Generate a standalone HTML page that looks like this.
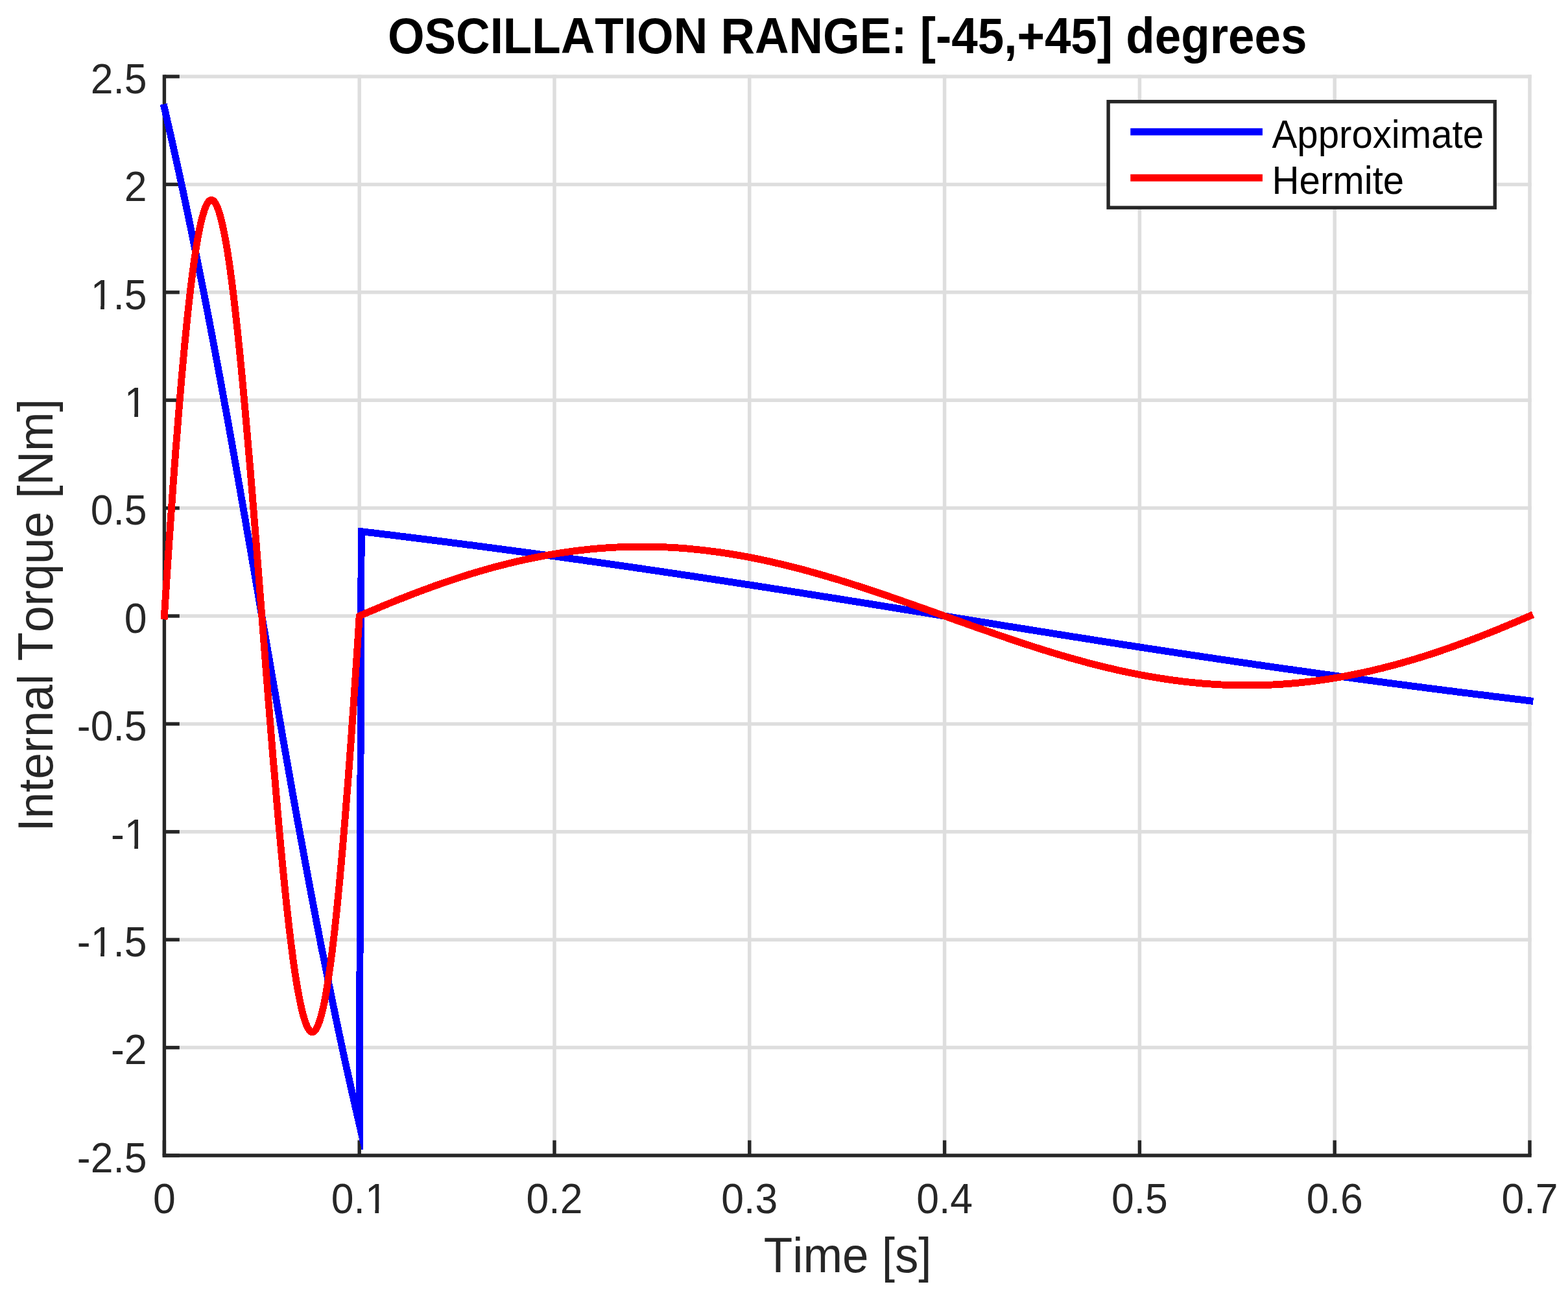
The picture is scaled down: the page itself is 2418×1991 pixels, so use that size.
<!DOCTYPE html>
<html><head><meta charset="utf-8"><title>Oscillation range plot</title>
<style>html,body{margin:0;padding:0;background:#fff;}body{width:2418px;height:1991px;overflow:hidden;}svg{display:block;}text{font-family:"Liberation Sans",Arial,Helvetica,sans-serif;font-kerning:none;font-feature-settings:"kern" 0;}</style></head><body>
<svg width="2418" height="1991" viewBox="0 0 2418 1991">
<rect x="0" y="0" width="2418" height="1991" fill="#fff"/>
<g stroke="#dedede" stroke-width="5.5" fill="none">
<line x1="554.2" y1="115.2" x2="554.2" y2="1782.0"/>
<line x1="855.0" y1="115.2" x2="855.0" y2="1782.0"/>
<line x1="1155.8" y1="115.2" x2="1155.8" y2="1782.0"/>
<line x1="1456.6" y1="115.2" x2="1456.6" y2="1782.0"/>
<line x1="1757.4" y1="115.2" x2="1757.4" y2="1782.0"/>
<line x1="2058.2" y1="115.2" x2="2058.2" y2="1782.0"/>
<line x1="2359.0" y1="115.2" x2="2359.0" y2="1782.0"/>
<line x1="253.4" y1="1615.6" x2="2361.8" y2="1615.6"/>
<line x1="253.4" y1="1449.2" x2="2361.8" y2="1449.2"/>
<line x1="253.4" y1="1282.8" x2="2361.8" y2="1282.8"/>
<line x1="253.4" y1="1116.4" x2="2361.8" y2="1116.4"/>
<line x1="253.4" y1="950.0" x2="2361.8" y2="950.0"/>
<line x1="253.4" y1="783.6" x2="2361.8" y2="783.6"/>
<line x1="253.4" y1="617.2" x2="2361.8" y2="617.2"/>
<line x1="253.4" y1="450.8" x2="2361.8" y2="450.8"/>
<line x1="253.4" y1="284.4" x2="2361.8" y2="284.4"/>
<line x1="253.4" y1="118.0" x2="2361.8" y2="118.0"/>
</g>
<g stroke="#262626" stroke-width="5.4" fill="none">
<line x1="253.4" y1="115.3" x2="253.4" y2="1784.7"/>
<line x1="250.7" y1="1782.0" x2="2361.7" y2="1782.0"/>
<line x1="253.4" y1="1782.0" x2="253.4" y2="1758.6"/>
<line x1="554.2" y1="1782.0" x2="554.2" y2="1758.6"/>
<line x1="855.0" y1="1782.0" x2="855.0" y2="1758.6"/>
<line x1="1155.8" y1="1782.0" x2="1155.8" y2="1758.6"/>
<line x1="1456.6" y1="1782.0" x2="1456.6" y2="1758.6"/>
<line x1="1757.4" y1="1782.0" x2="1757.4" y2="1758.6"/>
<line x1="2058.2" y1="1782.0" x2="2058.2" y2="1758.6"/>
<line x1="2359.0" y1="1782.0" x2="2359.0" y2="1758.6"/>
<line x1="253.4" y1="1782.0" x2="276.8" y2="1782.0"/>
<line x1="253.4" y1="1615.6" x2="276.8" y2="1615.6"/>
<line x1="253.4" y1="1449.2" x2="276.8" y2="1449.2"/>
<line x1="253.4" y1="1282.8" x2="276.8" y2="1282.8"/>
<line x1="253.4" y1="1116.4" x2="276.8" y2="1116.4"/>
<line x1="253.4" y1="950.0" x2="276.8" y2="950.0"/>
<line x1="253.4" y1="783.6" x2="276.8" y2="783.6"/>
<line x1="253.4" y1="617.2" x2="276.8" y2="617.2"/>
<line x1="253.4" y1="450.8" x2="276.8" y2="450.8"/>
<line x1="253.4" y1="284.4" x2="276.8" y2="284.4"/>
<line x1="253.4" y1="118.0" x2="276.8" y2="118.0"/>
</g>
<defs><clipPath id="cb"><rect x="0" y="0" width="2418" height="1772.9"/></clipPath></defs>
<polyline clip-path="url(#cb)" shape-rendering="crispEdges" fill="none" stroke="#0000ff" stroke-width="10.9" stroke-linecap="square" stroke-linejoin="miter" stroke-miterlimit="12" points="253.4,165.9 254.9,172.4 256.4,178.8 257.9,185.4 259.4,191.9 260.9,198.5 262.4,205.1 263.9,211.7 265.4,218.4 266.9,225.1 268.4,231.8 269.9,238.6 271.4,245.4 273.0,252.2 274.5,259.1 276.0,266.0 277.5,272.9 279.0,279.9 280.5,286.8 282.0,293.8 283.5,300.9 285.0,308.0 286.5,315.1 288.0,322.2 289.5,329.3 291.0,336.5 292.5,343.8 294.0,351.0 295.5,358.3 297.0,365.6 298.5,372.9 300.0,380.3 301.5,387.7 303.0,395.1 304.5,402.6 306.0,410.1 307.5,417.6 309.0,425.2 310.6,432.7 312.1,440.3 313.6,448.0 315.1,455.6 316.6,463.3 318.1,471.1 319.6,478.8 321.1,486.6 322.6,494.4 324.1,502.3 325.6,510.1 327.1,518.0 328.6,526.0 330.1,533.9 331.6,541.9 333.1,549.9 334.6,558.0 336.1,566.0 337.6,574.1 339.1,582.2 340.6,590.4 342.1,598.6 343.6,606.8 345.1,615.0 346.6,623.2 348.2,631.5 349.7,639.8 351.2,648.1 352.7,656.5 354.2,664.8 355.7,673.2 357.2,681.6 358.7,690.1 360.2,698.5 361.7,707.0 363.2,715.5 364.7,724.0 366.2,732.5 367.7,741.1 369.2,749.6 370.7,758.2 372.2,766.8 373.7,775.5 375.2,784.1 376.7,792.7 378.2,801.4 379.7,810.1 381.2,818.8 382.7,827.4 384.2,836.2 385.8,844.9 387.3,853.6 388.8,862.3 390.3,871.1 391.8,879.8 393.3,888.6 394.8,897.4 396.3,906.1 397.8,914.9 399.3,923.7 400.8,932.4 402.3,941.2 403.8,950.0 405.3,958.8 406.8,967.6 408.3,976.3 409.8,985.1 411.3,993.9 412.8,1002.6 414.3,1011.4 415.8,1020.2 417.3,1028.9 418.8,1037.7 420.3,1046.4 421.8,1055.1 423.4,1063.8 424.9,1072.6 426.4,1081.2 427.9,1089.9 429.4,1098.6 430.9,1107.3 432.4,1115.9 433.9,1124.5 435.4,1133.2 436.9,1141.8 438.4,1150.4 439.9,1158.9 441.4,1167.5 442.9,1176.0 444.4,1184.5 445.9,1193.0 447.4,1201.5 448.9,1209.9 450.4,1218.4 451.9,1226.8 453.4,1235.2 454.9,1243.5 456.4,1251.9 457.9,1260.2 459.4,1268.5 461.0,1276.8 462.5,1285.0 464.0,1293.2 465.5,1301.4 467.0,1309.6 468.5,1317.8 470.0,1325.9 471.5,1334.0 473.0,1342.0 474.5,1350.1 476.0,1358.1 477.5,1366.1 479.0,1374.0 480.5,1382.0 482.0,1389.9 483.5,1397.7 485.0,1405.6 486.5,1413.4 488.0,1421.2 489.5,1428.9 491.0,1436.7 492.5,1444.4 494.0,1452.0 495.5,1459.7 497.0,1467.3 498.6,1474.8 500.1,1482.4 501.6,1489.9 503.1,1497.4 504.6,1504.9 506.1,1512.3 507.6,1519.7 509.1,1527.1 510.6,1534.4 512.1,1541.7 513.6,1549.0 515.1,1556.2 516.6,1563.5 518.1,1570.7 519.6,1577.8 521.1,1584.9 522.6,1592.0 524.1,1599.1 525.6,1606.2 527.1,1613.2 528.6,1620.1 530.1,1627.1 531.6,1634.0 533.1,1640.9 534.6,1647.8 536.2,1654.6 537.7,1661.4 539.2,1668.2 540.7,1674.9 542.2,1681.6 543.7,1688.3 545.2,1694.9 546.7,1701.5 548.2,1708.1 549.7,1714.6 551.2,1721.2 552.7,1727.6 554.2,1734.1 557.2,819.7 560.2,820.0 563.2,820.4 566.2,820.8 569.2,821.1 572.2,821.5 575.3,821.8 578.3,822.2 581.3,822.6 584.3,822.9 587.3,823.3 590.3,823.7 593.3,824.0 596.3,824.4 599.3,824.7 602.3,825.1 605.3,825.5 608.3,825.8 611.4,826.2 614.4,826.6 617.4,827.0 620.4,827.3 623.4,827.7 626.4,828.1 629.4,828.4 632.4,828.8 635.4,829.2 638.4,829.6 641.4,829.9 644.4,830.3 647.4,830.7 650.5,831.1 653.5,831.4 656.5,831.8 659.5,832.2 662.5,832.6 665.5,832.9 668.5,833.3 671.5,833.7 674.5,834.1 677.5,834.5 680.5,834.8 683.5,835.2 686.6,835.6 689.6,836.0 692.6,836.4 695.6,836.8 698.6,837.2 701.6,837.5 704.6,837.9 707.6,838.3 710.6,838.7 713.6,839.1 716.6,839.5 719.6,839.9 722.6,840.3 725.7,840.6 728.7,841.0 731.7,841.4 734.7,841.8 737.7,842.2 740.7,842.6 743.7,843.0 746.7,843.4 749.7,843.8 752.7,844.2 755.7,844.6 758.7,845.0 761.8,845.4 764.8,845.8 767.8,846.2 770.8,846.6 773.8,847.0 776.8,847.4 779.8,847.8 782.8,848.2 785.8,848.6 788.8,849.0 791.8,849.4 794.8,849.8 797.8,850.2 800.9,850.6 803.9,851.0 806.9,851.4 809.9,851.8 812.9,852.2 815.9,852.6 818.9,853.0 821.9,853.4 824.9,853.8 827.9,854.2 830.9,854.6 833.9,855.1 837.0,855.5 840.0,855.9 843.0,856.3 846.0,856.7 849.0,857.1 852.0,857.5 855.0,857.9 858.0,858.4 861.0,858.8 864.0,859.2 867.0,859.6 870.0,860.0 873.0,860.4 876.1,860.8 879.1,861.3 882.1,861.7 885.1,862.1 888.1,862.5 891.1,862.9 894.1,863.4 897.1,863.8 900.1,864.2 903.1,864.6 906.1,865.1 909.1,865.5 912.2,865.9 915.2,866.3 918.2,866.8 921.2,867.2 924.2,867.6 927.2,868.0 930.2,868.5 933.2,868.9 936.2,869.3 939.2,869.7 942.2,870.2 945.2,870.6 948.2,871.0 951.3,871.5 954.3,871.9 957.3,872.3 960.3,872.8 963.3,873.2 966.3,873.6 969.3,874.1 972.3,874.5 975.3,874.9 978.3,875.4 981.3,875.8 984.3,876.3 987.4,876.7 990.4,877.1 993.4,877.6 996.4,878.0 999.4,878.4 1002.4,878.9 1005.4,879.3 1008.4,879.8 1011.4,880.2 1014.4,880.7 1017.4,881.1 1020.4,881.5 1023.4,882.0 1026.5,882.4 1029.5,882.9 1032.5,883.3 1035.5,883.8 1038.5,884.2 1041.5,884.7 1044.5,885.1 1047.5,885.6 1050.5,886.0 1053.5,886.5 1056.5,886.9 1059.5,887.4 1062.6,887.8 1065.6,888.3 1068.6,888.7 1071.6,889.2 1074.6,889.6 1077.6,890.1 1080.6,890.5 1083.6,891.0 1086.6,891.4 1089.6,891.9 1092.6,892.3 1095.6,892.8 1098.6,893.2 1101.7,893.7 1104.7,894.2 1107.7,894.6 1110.7,895.1 1113.7,895.5 1116.7,896.0 1119.7,896.5 1122.7,896.9 1125.7,897.4 1128.7,897.8 1131.7,898.3 1134.7,898.8 1137.8,899.2 1140.8,899.7 1143.8,900.1 1146.8,900.6 1149.8,901.1 1152.8,901.5 1155.8,902.0 1158.8,902.5 1161.8,902.9 1164.8,903.4 1167.8,903.9 1170.8,904.3 1173.8,904.8 1176.9,905.3 1179.9,905.7 1182.9,906.2 1185.9,906.7 1188.9,907.1 1191.9,907.6 1194.9,908.1 1197.9,908.6 1200.9,909.0 1203.9,909.5 1206.9,910.0 1209.9,910.4 1213.0,910.9 1216.0,911.4 1219.0,911.9 1222.0,912.3 1225.0,912.8 1228.0,913.3 1231.0,913.8 1234.0,914.2 1237.0,914.7 1240.0,915.2 1243.0,915.7 1246.0,916.1 1249.0,916.6 1252.1,917.1 1255.1,917.6 1258.1,918.0 1261.1,918.5 1264.1,919.0 1267.1,919.5 1270.1,920.0 1273.1,920.4 1276.1,920.9 1279.1,921.4 1282.1,921.9 1285.1,922.3 1288.2,922.8 1291.2,923.3 1294.2,923.8 1297.2,924.3 1300.2,924.8 1303.2,925.2 1306.2,925.7 1309.2,926.2 1312.2,926.7 1315.2,927.2 1318.2,927.6 1321.2,928.1 1324.2,928.6 1327.3,929.1 1330.3,929.6 1333.3,930.1 1336.3,930.5 1339.3,931.0 1342.3,931.5 1345.3,932.0 1348.3,932.5 1351.3,933.0 1354.3,933.4 1357.3,933.9 1360.3,934.4 1363.4,934.9 1366.4,935.4 1369.4,935.9 1372.4,936.4 1375.4,936.8 1378.4,937.3 1381.4,937.8 1384.4,938.3 1387.4,938.8 1390.4,939.3 1393.4,939.8 1396.4,940.3 1399.4,940.7 1402.5,941.2 1405.5,941.7 1408.5,942.2 1411.5,942.7 1414.5,943.2 1417.5,943.7 1420.5,944.1 1423.5,944.6 1426.5,945.1 1429.5,945.6 1432.5,946.1 1435.5,946.6 1438.6,947.1 1441.6,947.6 1444.6,948.0 1447.6,948.5 1450.6,949.0 1453.6,949.5 1456.6,950.0 1459.6,950.5 1462.6,951.0 1465.6,951.5 1468.6,952.0 1471.6,952.4 1474.6,952.9 1477.7,953.4 1480.7,953.9 1483.7,954.4 1486.7,954.9 1489.7,955.4 1492.7,955.9 1495.7,956.3 1498.7,956.8 1501.7,957.3 1504.7,957.8 1507.7,958.3 1510.7,958.8 1513.8,959.3 1516.8,959.7 1519.8,960.2 1522.8,960.7 1525.8,961.2 1528.8,961.7 1531.8,962.2 1534.8,962.7 1537.8,963.2 1540.8,963.6 1543.8,964.1 1546.8,964.6 1549.8,965.1 1552.9,965.6 1555.9,966.1 1558.9,966.6 1561.9,967.0 1564.9,967.5 1567.9,968.0 1570.9,968.5 1573.9,969.0 1576.9,969.5 1579.9,969.9 1582.9,970.4 1585.9,970.9 1589.0,971.4 1592.0,971.9 1595.0,972.4 1598.0,972.8 1601.0,973.3 1604.0,973.8 1607.0,974.3 1610.0,974.8 1613.0,975.2 1616.0,975.7 1619.0,976.2 1622.0,976.7 1625.0,977.2 1628.1,977.7 1631.1,978.1 1634.1,978.6 1637.1,979.1 1640.1,979.6 1643.1,980.0 1646.1,980.5 1649.1,981.0 1652.1,981.5 1655.1,982.0 1658.1,982.4 1661.1,982.9 1664.2,983.4 1667.2,983.9 1670.2,984.3 1673.2,984.8 1676.2,985.3 1679.2,985.8 1682.2,986.2 1685.2,986.7 1688.2,987.2 1691.2,987.7 1694.2,988.1 1697.2,988.6 1700.2,989.1 1703.3,989.6 1706.3,990.0 1709.3,990.5 1712.3,991.0 1715.3,991.4 1718.3,991.9 1721.3,992.4 1724.3,992.9 1727.3,993.3 1730.3,993.8 1733.3,994.3 1736.3,994.7 1739.4,995.2 1742.4,995.7 1745.4,996.1 1748.4,996.6 1751.4,997.1 1754.4,997.5 1757.4,998.0 1760.4,998.5 1763.4,998.9 1766.4,999.4 1769.4,999.9 1772.4,1000.3 1775.4,1000.8 1778.5,1001.2 1781.5,1001.7 1784.5,1002.2 1787.5,1002.6 1790.5,1003.1 1793.5,1003.5 1796.5,1004.0 1799.5,1004.5 1802.5,1004.9 1805.5,1005.4 1808.5,1005.8 1811.5,1006.3 1814.6,1006.8 1817.6,1007.2 1820.6,1007.7 1823.6,1008.1 1826.6,1008.6 1829.6,1009.0 1832.6,1009.5 1835.6,1009.9 1838.6,1010.4 1841.6,1010.8 1844.6,1011.3 1847.6,1011.7 1850.6,1012.2 1853.7,1012.6 1856.7,1013.1 1859.7,1013.5 1862.7,1014.0 1865.7,1014.4 1868.7,1014.9 1871.7,1015.3 1874.7,1015.8 1877.7,1016.2 1880.7,1016.7 1883.7,1017.1 1886.7,1017.6 1889.8,1018.0 1892.8,1018.5 1895.8,1018.9 1898.8,1019.3 1901.8,1019.8 1904.8,1020.2 1907.8,1020.7 1910.8,1021.1 1913.8,1021.6 1916.8,1022.0 1919.8,1022.4 1922.8,1022.9 1925.8,1023.3 1928.9,1023.7 1931.9,1024.2 1934.9,1024.6 1937.9,1025.1 1940.9,1025.5 1943.9,1025.9 1946.9,1026.4 1949.9,1026.8 1952.9,1027.2 1955.9,1027.7 1958.9,1028.1 1961.9,1028.5 1965.0,1029.0 1968.0,1029.4 1971.0,1029.8 1974.0,1030.3 1977.0,1030.7 1980.0,1031.1 1983.0,1031.5 1986.0,1032.0 1989.0,1032.4 1992.0,1032.8 1995.0,1033.2 1998.0,1033.7 2001.0,1034.1 2004.1,1034.5 2007.1,1034.9 2010.1,1035.4 2013.1,1035.8 2016.1,1036.2 2019.1,1036.6 2022.1,1037.1 2025.1,1037.5 2028.1,1037.9 2031.1,1038.3 2034.1,1038.7 2037.1,1039.2 2040.2,1039.6 2043.2,1040.0 2046.2,1040.4 2049.2,1040.8 2052.2,1041.2 2055.2,1041.6 2058.2,1042.1 2061.2,1042.5 2064.2,1042.9 2067.2,1043.3 2070.2,1043.7 2073.2,1044.1 2076.2,1044.5 2079.3,1044.9 2082.3,1045.4 2085.3,1045.8 2088.3,1046.2 2091.3,1046.6 2094.3,1047.0 2097.3,1047.4 2100.3,1047.8 2103.3,1048.2 2106.3,1048.6 2109.3,1049.0 2112.3,1049.4 2115.4,1049.8 2118.4,1050.2 2121.4,1050.6 2124.4,1051.0 2127.4,1051.4 2130.4,1051.8 2133.4,1052.2 2136.4,1052.6 2139.4,1053.0 2142.4,1053.4 2145.4,1053.8 2148.4,1054.2 2151.4,1054.6 2154.5,1055.0 2157.5,1055.4 2160.5,1055.8 2163.5,1056.2 2166.5,1056.6 2169.5,1057.0 2172.5,1057.4 2175.5,1057.8 2178.5,1058.2 2181.5,1058.6 2184.5,1059.0 2187.5,1059.4 2190.6,1059.7 2193.6,1060.1 2196.6,1060.5 2199.6,1060.9 2202.6,1061.3 2205.6,1061.7 2208.6,1062.1 2211.6,1062.5 2214.6,1062.8 2217.6,1063.2 2220.6,1063.6 2223.6,1064.0 2226.6,1064.4 2229.7,1064.8 2232.7,1065.2 2235.7,1065.5 2238.7,1065.9 2241.7,1066.3 2244.7,1066.7 2247.7,1067.1 2250.7,1067.4 2253.7,1067.8 2256.7,1068.2 2259.7,1068.6 2262.7,1068.9 2265.8,1069.3 2268.8,1069.7 2271.8,1070.1 2274.8,1070.4 2277.8,1070.8 2280.8,1071.2 2283.8,1071.6 2286.8,1071.9 2289.8,1072.3 2292.8,1072.7 2295.8,1073.0 2298.8,1073.4 2301.8,1073.8 2304.9,1074.2 2307.9,1074.5 2310.9,1074.9 2313.9,1075.3 2316.9,1075.6 2319.9,1076.0 2322.9,1076.3 2325.9,1076.7 2328.9,1077.1 2331.9,1077.4 2334.9,1077.8 2337.9,1078.2 2341.0,1078.5 2344.0,1078.9 2347.0,1079.2 2350.0,1079.6 2353.0,1080.0 2356.0,1080.3 2359.0,1080.7"/>
<polyline shape-rendering="crispEdges" fill="none" stroke="#ff0000" stroke-width="10.9" stroke-linecap="square" stroke-linejoin="round" points="253.4,950.0 254.9,926.6 256.4,903.4 257.9,880.5 259.4,857.9 260.9,835.5 262.4,813.5 263.9,791.9 265.4,770.5 266.9,749.5 268.4,728.9 269.9,708.7 271.4,688.8 273.0,669.3 274.5,650.3 276.0,631.6 277.5,613.4 279.0,595.6 280.5,578.3 282.0,561.5 283.5,545.1 285.0,529.2 286.5,513.8 288.0,498.9 289.5,484.4 291.0,470.6 292.5,457.2 294.0,444.4 295.5,432.1 297.0,420.4 298.5,409.2 300.0,398.6 301.5,388.5 303.0,379.0 304.5,370.1 306.0,361.8 307.5,354.1 309.0,347.0 310.6,340.4 312.1,334.5 313.6,329.2 315.1,324.4 316.6,320.3 318.1,316.8 319.6,313.9 321.1,311.6 322.6,309.9 324.1,308.9 325.6,308.4 327.1,308.5 328.6,309.3 330.1,310.6 331.6,312.6 333.1,315.1 334.6,318.2 336.1,322.0 337.6,326.3 339.1,331.2 340.6,336.6 342.1,342.7 343.6,349.3 345.1,356.4 346.6,364.1 348.2,372.4 349.7,381.1 351.2,390.4 352.7,400.2 354.2,410.5 355.7,421.3 357.2,432.6 358.7,444.4 360.2,456.6 361.7,469.2 363.2,482.4 364.7,495.9 366.2,509.8 367.7,524.2 369.2,538.9 370.7,554.0 372.2,569.5 373.7,585.3 375.2,601.4 376.7,617.9 378.2,634.6 379.7,651.7 381.2,669.0 382.7,686.6 384.2,704.4 385.8,722.4 387.3,740.6 388.8,759.1 390.3,777.7 391.8,796.4 393.3,815.3 394.8,834.3 396.3,853.4 397.8,872.7 399.3,891.9 400.8,911.3 402.3,930.6 403.8,950.0 405.3,969.4 406.8,988.7 408.3,1008.1 409.8,1027.3 411.3,1046.6 412.8,1065.7 414.3,1084.7 415.8,1103.6 417.3,1122.3 418.8,1140.9 420.3,1159.4 421.8,1177.6 423.4,1195.6 424.9,1213.4 426.4,1231.0 427.9,1248.3 429.4,1265.4 430.9,1282.1 432.4,1298.6 433.9,1314.7 435.4,1330.5 436.9,1346.0 438.4,1361.1 439.9,1375.8 441.4,1390.2 442.9,1404.1 444.4,1417.6 445.9,1430.8 447.4,1443.4 448.9,1455.6 450.4,1467.4 451.9,1478.7 453.4,1489.5 454.9,1499.8 456.4,1509.6 457.9,1518.9 459.4,1527.6 461.0,1535.9 462.5,1543.6 464.0,1550.7 465.5,1557.3 467.0,1563.4 468.5,1568.8 470.0,1573.7 471.5,1578.0 473.0,1581.8 474.5,1584.9 476.0,1587.4 477.5,1589.4 479.0,1590.7 480.5,1591.5 482.0,1591.6 483.5,1591.1 485.0,1590.1 486.5,1588.4 488.0,1586.1 489.5,1583.2 491.0,1579.7 492.5,1575.6 494.0,1570.8 495.5,1565.5 497.0,1559.6 498.6,1553.0 500.1,1545.9 501.6,1538.2 503.1,1529.9 504.6,1521.0 506.1,1511.5 507.6,1501.4 509.1,1490.8 510.6,1479.6 512.1,1467.9 513.6,1455.6 515.1,1442.8 516.6,1429.4 518.1,1415.6 519.6,1401.1 521.1,1386.2 522.6,1370.8 524.1,1354.9 525.6,1338.5 527.1,1321.7 528.6,1304.4 530.1,1286.6 531.6,1268.4 533.1,1249.7 534.6,1230.7 536.2,1211.2 537.7,1191.3 539.2,1171.1 540.7,1150.5 542.2,1129.5 543.7,1108.1 545.2,1086.5 546.7,1064.5 548.2,1042.1 549.7,1019.5 551.2,996.6 552.7,973.4 554.2,950.0 557.2,948.7 560.2,947.4 563.2,946.1 566.2,944.8 569.2,943.5 572.2,942.2 575.3,941.0 578.3,939.7 581.3,938.4 584.3,937.2 587.3,935.9 590.3,934.6 593.3,933.4 596.3,932.2 599.3,930.9 602.3,929.7 605.3,928.5 608.3,927.3 611.4,926.0 614.4,924.8 617.4,923.6 620.4,922.5 623.4,921.3 626.4,920.1 629.4,918.9 632.4,917.7 635.4,916.6 638.4,915.4 641.4,914.3 644.4,913.2 647.4,912.0 650.5,910.9 653.5,909.8 656.5,908.7 659.5,907.6 662.5,906.5 665.5,905.4 668.5,904.3 671.5,903.2 674.5,902.2 677.5,901.1 680.5,900.0 683.5,899.0 686.6,898.0 689.6,896.9 692.6,895.9 695.6,894.9 698.6,893.9 701.6,892.9 704.6,891.9 707.6,890.9 710.6,890.0 713.6,889.0 716.6,888.1 719.6,887.1 722.6,886.2 725.7,885.2 728.7,884.3 731.7,883.4 734.7,882.5 737.7,881.6 740.7,880.7 743.7,879.9 746.7,879.0 749.7,878.1 752.7,877.3 755.7,876.5 758.7,875.6 761.8,874.8 764.8,874.0 767.8,873.2 770.8,872.4 773.8,871.6 776.8,870.9 779.8,870.1 782.8,869.3 785.8,868.6 788.8,867.9 791.8,867.1 794.8,866.4 797.8,865.7 800.9,865.0 803.9,864.4 806.9,863.7 809.9,863.0 812.9,862.4 815.9,861.7 818.9,861.1 821.9,860.5 824.9,859.9 827.9,859.3 830.9,858.7 833.9,858.1 837.0,857.5 840.0,857.0 843.0,856.4 846.0,855.9 849.0,855.4 852.0,854.8 855.0,854.3 858.0,853.8 861.0,853.4 864.0,852.9 867.0,852.4 870.0,852.0 873.0,851.5 876.1,851.1 879.1,850.7 882.1,850.3 885.1,849.9 888.1,849.5 891.1,849.1 894.1,848.8 897.1,848.4 900.1,848.1 903.1,847.7 906.1,847.4 909.1,847.1 912.2,846.8 915.2,846.5 918.2,846.3 921.2,846.0 924.2,845.7 927.2,845.5 930.2,845.3 933.2,845.1 936.2,844.8 939.2,844.7 942.2,844.5 945.2,844.3 948.2,844.1 951.3,844.0 954.3,843.8 957.3,843.7 960.3,843.6 963.3,843.5 966.3,843.4 969.3,843.3 972.3,843.2 975.3,843.2 978.3,843.1 981.3,843.1 984.3,843.1 987.4,843.1 990.4,843.1 993.4,843.1 996.4,843.1 999.4,843.1 1002.4,843.2 1005.4,843.2 1008.4,843.3 1011.4,843.4 1014.4,843.4 1017.4,843.5 1020.4,843.6 1023.4,843.8 1026.5,843.9 1029.5,844.0 1032.5,844.2 1035.5,844.3 1038.5,844.5 1041.5,844.7 1044.5,844.9 1047.5,845.1 1050.5,845.3 1053.5,845.6 1056.5,845.8 1059.5,846.0 1062.6,846.3 1065.6,846.6 1068.6,846.9 1071.6,847.2 1074.6,847.5 1077.6,847.8 1080.6,848.1 1083.6,848.4 1086.6,848.8 1089.6,849.1 1092.6,849.5 1095.6,849.9 1098.6,850.3 1101.7,850.7 1104.7,851.1 1107.7,851.5 1110.7,851.9 1113.7,852.4 1116.7,852.8 1119.7,853.3 1122.7,853.7 1125.7,854.2 1128.7,854.7 1131.7,855.2 1134.7,855.7 1137.8,856.2 1140.8,856.7 1143.8,857.3 1146.8,857.8 1149.8,858.4 1152.8,858.9 1155.8,859.5 1158.8,860.1 1161.8,860.7 1164.8,861.3 1167.8,861.9 1170.8,862.5 1173.8,863.1 1176.9,863.8 1179.9,864.4 1182.9,865.1 1185.9,865.7 1188.9,866.4 1191.9,867.1 1194.9,867.8 1197.9,868.5 1200.9,869.2 1203.9,869.9 1206.9,870.6 1209.9,871.3 1213.0,872.1 1216.0,872.8 1219.0,873.6 1222.0,874.3 1225.0,875.1 1228.0,875.9 1231.0,876.6 1234.0,877.4 1237.0,878.2 1240.0,879.0 1243.0,879.8 1246.0,880.7 1249.0,881.5 1252.1,882.3 1255.1,883.2 1258.1,884.0 1261.1,884.9 1264.1,885.7 1267.1,886.6 1270.1,887.5 1273.1,888.3 1276.1,889.2 1279.1,890.1 1282.1,891.0 1285.1,891.9 1288.2,892.8 1291.2,893.7 1294.2,894.6 1297.2,895.6 1300.2,896.5 1303.2,897.4 1306.2,898.4 1309.2,899.3 1312.2,900.3 1315.2,901.2 1318.2,902.2 1321.2,903.2 1324.2,904.1 1327.3,905.1 1330.3,906.1 1333.3,907.1 1336.3,908.1 1339.3,909.1 1342.3,910.1 1345.3,911.1 1348.3,912.1 1351.3,913.1 1354.3,914.1 1357.3,915.1 1360.3,916.1 1363.4,917.2 1366.4,918.2 1369.4,919.2 1372.4,920.2 1375.4,921.3 1378.4,922.3 1381.4,923.4 1384.4,924.4 1387.4,925.5 1390.4,926.5 1393.4,927.6 1396.4,928.6 1399.4,929.7 1402.5,930.7 1405.5,931.8 1408.5,932.8 1411.5,933.9 1414.5,935.0 1417.5,936.0 1420.5,937.1 1423.5,938.2 1426.5,939.2 1429.5,940.3 1432.5,941.4 1435.5,942.5 1438.6,943.5 1441.6,944.6 1444.6,945.7 1447.6,946.8 1450.6,947.8 1453.6,948.9 1456.6,950.0 1459.6,951.1 1462.6,952.2 1465.6,953.2 1468.6,954.3 1471.6,955.4 1474.6,956.5 1477.7,957.5 1480.7,958.6 1483.7,959.7 1486.7,960.8 1489.7,961.8 1492.7,962.9 1495.7,964.0 1498.7,965.0 1501.7,966.1 1504.7,967.2 1507.7,968.2 1510.7,969.3 1513.8,970.3 1516.8,971.4 1519.8,972.4 1522.8,973.5 1525.8,974.5 1528.8,975.6 1531.8,976.6 1534.8,977.7 1537.8,978.7 1540.8,979.8 1543.8,980.8 1546.8,981.8 1549.8,982.8 1552.9,983.9 1555.9,984.9 1558.9,985.9 1561.9,986.9 1564.9,987.9 1567.9,988.9 1570.9,989.9 1573.9,990.9 1576.9,991.9 1579.9,992.9 1582.9,993.9 1585.9,994.9 1589.0,995.9 1592.0,996.8 1595.0,997.8 1598.0,998.8 1601.0,999.7 1604.0,1000.7 1607.0,1001.6 1610.0,1002.6 1613.0,1003.5 1616.0,1004.4 1619.0,1005.4 1622.0,1006.3 1625.0,1007.2 1628.1,1008.1 1631.1,1009.0 1634.1,1009.9 1637.1,1010.8 1640.1,1011.7 1643.1,1012.5 1646.1,1013.4 1649.1,1014.3 1652.1,1015.1 1655.1,1016.0 1658.1,1016.8 1661.1,1017.7 1664.2,1018.5 1667.2,1019.3 1670.2,1020.2 1673.2,1021.0 1676.2,1021.8 1679.2,1022.6 1682.2,1023.4 1685.2,1024.1 1688.2,1024.9 1691.2,1025.7 1694.2,1026.4 1697.2,1027.2 1700.2,1027.9 1703.3,1028.7 1706.3,1029.4 1709.3,1030.1 1712.3,1030.8 1715.3,1031.5 1718.3,1032.2 1721.3,1032.9 1724.3,1033.6 1727.3,1034.3 1730.3,1034.9 1733.3,1035.6 1736.3,1036.2 1739.4,1036.9 1742.4,1037.5 1745.4,1038.1 1748.4,1038.7 1751.4,1039.3 1754.4,1039.9 1757.4,1040.5 1760.4,1041.1 1763.4,1041.6 1766.4,1042.2 1769.4,1042.7 1772.4,1043.3 1775.4,1043.8 1778.5,1044.3 1781.5,1044.8 1784.5,1045.3 1787.5,1045.8 1790.5,1046.3 1793.5,1046.7 1796.5,1047.2 1799.5,1047.6 1802.5,1048.1 1805.5,1048.5 1808.5,1048.9 1811.5,1049.3 1814.6,1049.7 1817.6,1050.1 1820.6,1050.5 1823.6,1050.9 1826.6,1051.2 1829.6,1051.6 1832.6,1051.9 1835.6,1052.2 1838.6,1052.5 1841.6,1052.8 1844.6,1053.1 1847.6,1053.4 1850.6,1053.7 1853.7,1054.0 1856.7,1054.2 1859.7,1054.4 1862.7,1054.7 1865.7,1054.9 1868.7,1055.1 1871.7,1055.3 1874.7,1055.5 1877.7,1055.7 1880.7,1055.8 1883.7,1056.0 1886.7,1056.1 1889.8,1056.2 1892.8,1056.4 1895.8,1056.5 1898.8,1056.6 1901.8,1056.6 1904.8,1056.7 1907.8,1056.8 1910.8,1056.8 1913.8,1056.9 1916.8,1056.9 1919.8,1056.9 1922.8,1056.9 1925.8,1056.9 1928.9,1056.9 1931.9,1056.9 1934.9,1056.9 1937.9,1056.8 1940.9,1056.8 1943.9,1056.7 1946.9,1056.6 1949.9,1056.5 1952.9,1056.4 1955.9,1056.3 1958.9,1056.2 1961.9,1056.0 1965.0,1055.9 1968.0,1055.7 1971.0,1055.5 1974.0,1055.3 1977.0,1055.2 1980.0,1054.9 1983.0,1054.7 1986.0,1054.5 1989.0,1054.3 1992.0,1054.0 1995.0,1053.7 1998.0,1053.5 2001.0,1053.2 2004.1,1052.9 2007.1,1052.6 2010.1,1052.3 2013.1,1051.9 2016.1,1051.6 2019.1,1051.2 2022.1,1050.9 2025.1,1050.5 2028.1,1050.1 2031.1,1049.7 2034.1,1049.3 2037.1,1048.9 2040.2,1048.5 2043.2,1048.0 2046.2,1047.6 2049.2,1047.1 2052.2,1046.6 2055.2,1046.2 2058.2,1045.7 2061.2,1045.2 2064.2,1044.6 2067.2,1044.1 2070.2,1043.6 2073.2,1043.0 2076.2,1042.5 2079.3,1041.9 2082.3,1041.3 2085.3,1040.7 2088.3,1040.1 2091.3,1039.5 2094.3,1038.9 2097.3,1038.3 2100.3,1037.6 2103.3,1037.0 2106.3,1036.3 2109.3,1035.6 2112.3,1035.0 2115.4,1034.3 2118.4,1033.6 2121.4,1032.9 2124.4,1032.1 2127.4,1031.4 2130.4,1030.7 2133.4,1029.9 2136.4,1029.1 2139.4,1028.4 2142.4,1027.6 2145.4,1026.8 2148.4,1026.0 2151.4,1025.2 2154.5,1024.4 2157.5,1023.5 2160.5,1022.7 2163.5,1021.9 2166.5,1021.0 2169.5,1020.1 2172.5,1019.3 2175.5,1018.4 2178.5,1017.5 2181.5,1016.6 2184.5,1015.7 2187.5,1014.8 2190.6,1013.8 2193.6,1012.9 2196.6,1011.9 2199.6,1011.0 2202.6,1010.0 2205.6,1009.1 2208.6,1008.1 2211.6,1007.1 2214.6,1006.1 2217.6,1005.1 2220.6,1004.1 2223.6,1003.1 2226.6,1002.0 2229.7,1001.0 2232.7,1000.0 2235.7,998.9 2238.7,997.8 2241.7,996.8 2244.7,995.7 2247.7,994.6 2250.7,993.5 2253.7,992.4 2256.7,991.3 2259.7,990.2 2262.7,989.1 2265.8,988.0 2268.8,986.8 2271.8,985.7 2274.8,984.6 2277.8,983.4 2280.8,982.3 2283.8,981.1 2286.8,979.9 2289.8,978.7 2292.8,977.5 2295.8,976.4 2298.8,975.2 2301.8,974.0 2304.9,972.7 2307.9,971.5 2310.9,970.3 2313.9,969.1 2316.9,967.8 2319.9,966.6 2322.9,965.4 2325.9,964.1 2328.9,962.8 2331.9,961.6 2334.9,960.3 2337.9,959.0 2341.0,957.8 2344.0,956.5 2347.0,955.2 2350.0,953.9 2353.0,952.6 2356.0,951.3 2359.0,950.0"/>
<g fill="#262626" font-size="62.5">
<g transform="translate(253.4,1870.8) scale(1,1.030)"><text text-anchor="middle">0</text></g>
<g transform="translate(554.2,1870.8) scale(1,1.030)"><text text-anchor="middle">0.1</text><rect x="11.73" y="-5.27" width="12.41" height="6.77" fill="#fff"/><rect x="29.92" y="-5.27" width="12.02" height="6.77" fill="#fff"/></g>
<g transform="translate(855.0,1870.8) scale(1,1.030)"><text text-anchor="middle">0.2</text></g>
<g transform="translate(1155.8,1870.8) scale(1,1.030)"><text text-anchor="middle">0.3</text></g>
<g transform="translate(1456.6,1870.8) scale(1,1.030)"><text text-anchor="middle">0.4</text></g>
<g transform="translate(1757.4,1870.8) scale(1,1.030)"><text text-anchor="middle">0.5</text></g>
<g transform="translate(2058.2,1870.8) scale(1,1.030)"><text text-anchor="middle">0.6</text></g>
<g transform="translate(2359.0,1870.8) scale(1,1.030)"><text text-anchor="middle">0.7</text></g>
<g transform="translate(226.5,1807.7) scale(1,1.030)"><text text-anchor="end">-2.5</text></g>
<g transform="translate(226.5,1641.3) scale(1,1.030)"><text text-anchor="end">-2</text></g>
<g transform="translate(226.5,1474.9) scale(1,1.030)"><text text-anchor="end">-1.5</text><rect x="-83.83" y="-5.27" width="12.41" height="6.77" fill="#fff"/><rect x="-65.64" y="-5.27" width="12.02" height="6.77" fill="#fff"/></g>
<g transform="translate(226.5,1308.5) scale(1,1.030)"><text text-anchor="end">-1</text><rect x="-31.71" y="-5.27" width="12.41" height="6.77" fill="#fff"/><rect x="-13.52" y="-5.27" width="12.02" height="6.77" fill="#fff"/></g>
<g transform="translate(226.5,1142.1) scale(1,1.030)"><text text-anchor="end">-0.5</text></g>
<g transform="translate(226.5,975.7) scale(1,1.030)"><text text-anchor="end">0</text></g>
<g transform="translate(226.5,809.3) scale(1,1.030)"><text text-anchor="end">0.5</text></g>
<g transform="translate(226.5,642.9) scale(1,1.030)"><text text-anchor="end">1</text><rect x="-31.71" y="-5.27" width="12.41" height="6.77" fill="#fff"/><rect x="-13.52" y="-5.27" width="12.02" height="6.77" fill="#fff"/></g>
<g transform="translate(226.5,476.5) scale(1,1.030)"><text text-anchor="end">1.5</text><rect x="-83.83" y="-5.27" width="12.41" height="6.77" fill="#fff"/><rect x="-65.64" y="-5.27" width="12.02" height="6.77" fill="#fff"/></g>
<g transform="translate(226.5,310.1) scale(1,1.030)"><text text-anchor="end">2</text></g>
<g transform="translate(226.5,143.7) scale(1,1.030)"><text text-anchor="end">2.5</text></g>
</g>
<text fill="#262626" font-size="72.8" text-anchor="middle" transform="translate(1307.2,1961.8) scale(1,1.05)">Time [s]</text>
<text fill="#262626" font-size="72.8" text-anchor="middle" transform="translate(81.0,948.8) rotate(-90) scale(1,1.05)">Internal Torque [Nm]</text>
<text fill="#000" font-size="72.8" font-weight="bold" text-anchor="middle" transform="translate(1306.7,81.8) scale(1,1.06)">OSCILLATION RANGE: [-45,+45] degrees</text>
<rect x="1709.1" y="156.7" width="596.2" height="163.5" fill="#fff" stroke="#262626" stroke-width="5.4"/>
<line x1="1748.7" y1="203.2" x2="1941.5" y2="203.2" stroke="#0000ff" stroke-width="10.9" stroke-linecap="square"/>
<line x1="1748.7" y1="274.2" x2="1941.5" y2="274.2" stroke="#ff0000" stroke-width="10.9" stroke-linecap="square"/>
<text fill="#000" font-size="58.2" transform="translate(1961.5,228.1) scale(1,1.05)">Approximate</text>
<text fill="#000" font-size="58.2" transform="translate(1961.5,298.6) scale(1,1.05)">Hermite</text>
</svg></body></html>
